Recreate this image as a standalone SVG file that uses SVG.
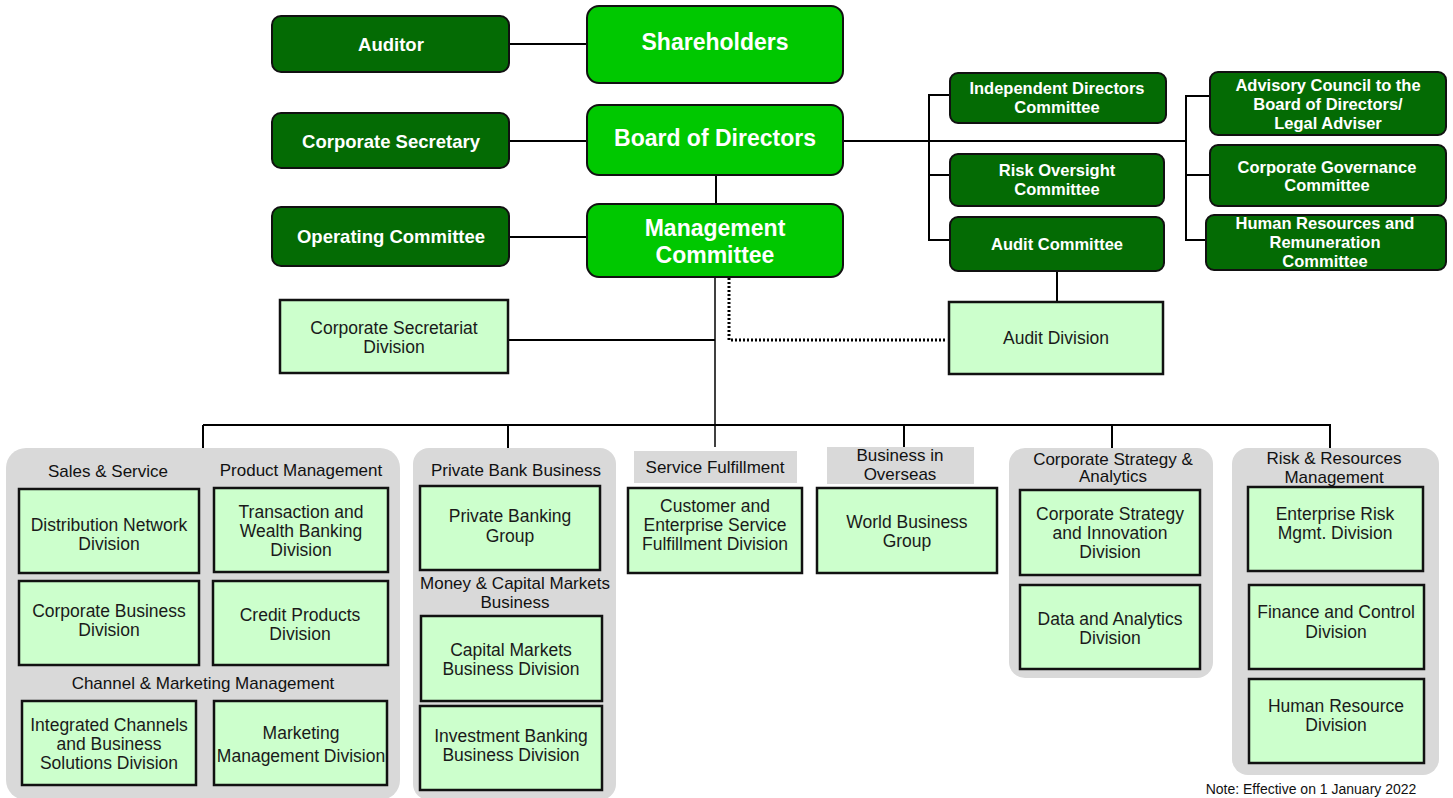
<svg xmlns="http://www.w3.org/2000/svg" width="1453" height="798" viewBox="0 0 1453 798">
<style>
text{font-family:"Liberation Sans",Arial,sans-serif;text-anchor:middle;dominant-baseline:central}
.dk{fill:#046b04;stroke:#111;stroke-width:2}
.br{fill:#00c800;stroke:#111;stroke-width:2}
.lt{fill:#ccffcc;stroke:#111;stroke-width:2.5}
.grp{fill:#d9d9d9}
.tw{fill:#fff;font-weight:bold;font-size:18.5px}
.tb{fill:#fff;font-weight:bold;font-size:23px}
.ts{fill:#fff;font-weight:bold;font-size:16.5px}
.tl{fill:#1a1a1a;font-size:17.5px}
.tg{fill:#111;font-size:17px}
.c{stroke:#000;stroke-width:2;fill:none}
</style>
<g id="connectors" class="c">
<line x1="509" y1="44" x2="587" y2="44"/>
<line x1="509" y1="141" x2="587" y2="141"/>
<line x1="509" y1="237" x2="587" y2="237"/>
<line x1="716" y1="175" x2="716" y2="204"/>
<line x1="843" y1="141" x2="1186" y2="141"/>
<polyline points="950,95 929,95 929,240 950,240"/>
<line x1="929" y1="175" x2="950" y2="175"/>
<polyline points="1210,96 1186,96 1186,240 1206,240"/>
<line x1="1186" y1="175" x2="1210" y2="175"/>
<line x1="1057" y1="271" x2="1057" y2="302"/>
<line x1="715" y1="277" x2="715" y2="447" stroke-width="1.5"/>
<line x1="508" y1="340" x2="715" y2="340"/>
<polyline points="729,278 729,340 947,340" stroke-width="3" stroke-dasharray="2 2"/>
<line x1="203" y1="425" x2="1331" y2="425"/>
<line x1="203" y1="425" x2="203" y2="448"/>
<line x1="508" y1="425" x2="508" y2="448"/>
<line x1="904" y1="425" x2="904" y2="447"/>
<line x1="1112" y1="425" x2="1112" y2="448"/>
<line x1="1330" y1="425" x2="1330" y2="448"/>
</g>
<g id="auditor"><rect class="dk" x="272" y="16" width="237" height="56" rx="9"/><text class="tw" x="391" y="44">Auditor</text></g>
<g id="corporate-secretary"><rect class="dk" x="272" y="113" width="237" height="55" rx="9"/><text class="tw" x="391" y="141">Corporate Secretary</text></g>
<g id="operating-committee"><rect class="dk" x="272" y="207" width="237" height="59" rx="9"/><text class="tw" x="391" y="236">Operating Committee</text></g>
<g id="shareholders"><rect class="br" x="587" y="6" width="256" height="77" rx="12"/><text class="tb" x="715" y="42">Shareholders</text></g>
<g id="board"><rect class="br" x="587" y="105" width="256" height="70" rx="12"/><text class="tb" x="715" y="138">Board of Directors</text></g>
<g id="management"><rect class="br" x="587" y="204" width="256" height="73" rx="12"/><text class="tb" x="715" y="228">Management</text><text class="tb" x="715" y="255">Committee</text></g>
<g id="independent-directors"><rect class="dk" x="950" y="73" width="216" height="50" rx="8"/><text class="ts" x="1057" y="88">Independent Directors</text><text class="ts" x="1057" y="107">Committee</text></g>
<g id="risk-oversight"><rect class="dk" x="950" y="154" width="214" height="52" rx="8"/><text class="ts" x="1057" y="170">Risk Oversight</text><text class="ts" x="1057" y="189">Committee</text></g>
<g id="audit-committee"><rect class="dk" x="950" y="217" width="214" height="54" rx="8"/><text class="ts" x="1057" y="244">Audit Committee</text></g>
<g id="advisory-council"><rect class="dk" x="1210" y="72" width="236" height="63" rx="8"/><text class="ts" x="1328" y="85">Advisory Council to the</text><text class="ts" x="1328" y="104">Board of Directors/</text><text class="ts" x="1328" y="123">Legal Adviser</text></g>
<g id="corporate-governance"><rect class="dk" x="1210" y="145" width="236" height="61" rx="8"/><text class="ts" x="1327" y="167">Corporate Governance</text><text class="ts" x="1327" y="185">Committee</text></g>
<g id="hr-remuneration"><rect class="dk" x="1206" y="215" width="240" height="55" rx="8"/><text class="ts" x="1325" y="223">Human Resources and</text><text class="ts" x="1325" y="242">Remuneration</text><text class="ts" x="1325" y="261">Committee</text></g>
<g id="corporate-secretariat"><rect class="lt" x="280" y="300" width="228" height="73"/><text class="tl" x="394" y="328">Corporate Secretariat</text><text class="tl" x="394" y="347">Division</text></g>
<g id="audit-division"><rect class="lt" x="949" y="302" width="214" height="72"/><text class="tl" x="1056" y="338">Audit Division</text></g>
<g id="group-sales">
<rect class="grp" x="6" y="448" width="394" height="352" rx="20"/>
<text class="tg" x="108" y="471">Sales &amp; Service</text>
<text class="tg" x="301" y="470">Product Management</text>
<text class="tg" x="203" y="683">Channel &amp; Marketing Management</text>
</g>
<g id="distribution-network"><rect class="lt" x="19" y="489" width="180" height="84"/><text class="tl" x="109" y="525">Distribution Network</text><text class="tl" x="109" y="544">Division</text></g>
<g id="transaction-wealth"><rect class="lt" x="214" y="488" width="174" height="84"/><text class="tl" x="301" y="512">Transaction and</text><text class="tl" x="301" y="531">Wealth Banking</text><text class="tl" x="301" y="550">Division</text></g>
<g id="corporate-business"><rect class="lt" x="19" y="581" width="180" height="84"/><text class="tl" x="109" y="611">Corporate Business</text><text class="tl" x="109" y="630">Division</text></g>
<g id="credit-products"><rect class="lt" x="213" y="581" width="175" height="84"/><text class="tl" x="300" y="615">Credit Products</text><text class="tl" x="300" y="634">Division</text></g>
<g id="integrated-channels"><rect class="lt" x="22" y="701" width="174" height="84"/><text class="tl" x="109" y="725">Integrated Channels</text><text class="tl" x="109" y="744">and Business</text><text class="tl" x="109" y="763">Solutions Division</text></g>
<g id="marketing-management"><rect class="lt" x="214" y="701" width="173" height="84"/><text class="tl" x="301" y="733">Marketing</text><text class="tl" x="301" y="756">Management Division</text></g>
<g id="group-private">
<rect class="grp" x="413" y="448" width="203" height="352" rx="16"/>
<text class="tg" x="516" y="470">Private Bank Business</text>
<text class="tg" x="515" y="583">Money &amp; Capital Markets</text>
<text class="tg" x="515" y="602">Business</text>
</g>
<g id="private-banking"><rect class="lt" x="420" y="486" width="180" height="84"/><text class="tl" x="510" y="516">Private Banking</text><text class="tl" x="510" y="536">Group</text></g>
<g id="capital-markets"><rect class="lt" x="421" y="616" width="181" height="85"/><text class="tl" x="511" y="650">Capital Markets</text><text class="tl" x="511" y="669">Business Division</text></g>
<g id="investment-banking"><rect class="lt" x="420" y="706" width="182" height="84"/><text class="tl" x="511" y="736">Investment Banking</text><text class="tl" x="511" y="755">Business Division</text></g>
<g id="service-fulfillment-label"><rect class="grp" x="634" y="451" width="163" height="32"/><text class="tg" x="715" y="467">Service Fulfillment</text></g>
<g id="customer-enterprise"><rect class="lt" x="628" y="488" width="174" height="85"/><text class="tl" x="715" y="506">Customer and</text><text class="tl" x="715" y="525">Enterprise Service</text><text class="tl" x="715" y="544">Fulfillment Division</text></g>
<g id="overseas-label"><rect class="grp" x="827" y="447" width="147" height="37"/><text class="tg" x="900" y="455">Business in</text><text class="tg" x="900" y="474">Overseas</text></g>
<g id="world-business"><rect class="lt" x="817" y="488" width="180" height="85"/><text class="tl" x="907" y="522">World Business</text><text class="tl" x="907" y="541">Group</text></g>
<g id="group-strategy">
<rect class="grp" x="1009" y="448" width="204" height="230" rx="16"/>
<text class="tg" x="1113" y="459">Corporate Strategy &amp;</text>
<text class="tg" x="1113" y="476">Analytics</text>
</g>
<g id="strategy-innovation"><rect class="lt" x="1020" y="490" width="180" height="85"/><text class="tl" x="1110" y="514">Corporate Strategy</text><text class="tl" x="1110" y="533">and Innovation</text><text class="tl" x="1110" y="552">Division</text></g>
<g id="data-analytics"><rect class="lt" x="1020" y="585" width="180" height="84"/><text class="tl" x="1110" y="619">Data and Analytics</text><text class="tl" x="1110" y="638">Division</text></g>
<g id="group-risk">
<rect class="grp" x="1232" y="448" width="207" height="327" rx="16"/>
<text class="tg" x="1334" y="458">Risk &amp; Resources</text>
<text class="tg" x="1334" y="477">Management</text>
</g>
<g id="enterprise-risk"><rect class="lt" x="1248" y="487" width="175" height="84"/><text class="tl" x="1335" y="514">Enterprise Risk</text><text class="tl" x="1335" y="533">Mgmt. Division</text></g>
<g id="finance-control"><rect class="lt" x="1249" y="585" width="175" height="84"/><text class="tl" x="1336" y="612">Finance and Control</text><text class="tl" x="1336" y="632">Division</text></g>
<g id="human-resource"><rect class="lt" x="1249" y="679" width="175" height="84"/><text class="tl" x="1336" y="706">Human Resource</text><text class="tl" x="1336" y="725">Division</text></g>
<text x="1311" y="794" style="font-size:14px;fill:#111;dominant-baseline:auto">Note: Effective on 1 January 2022</text>
</svg>
